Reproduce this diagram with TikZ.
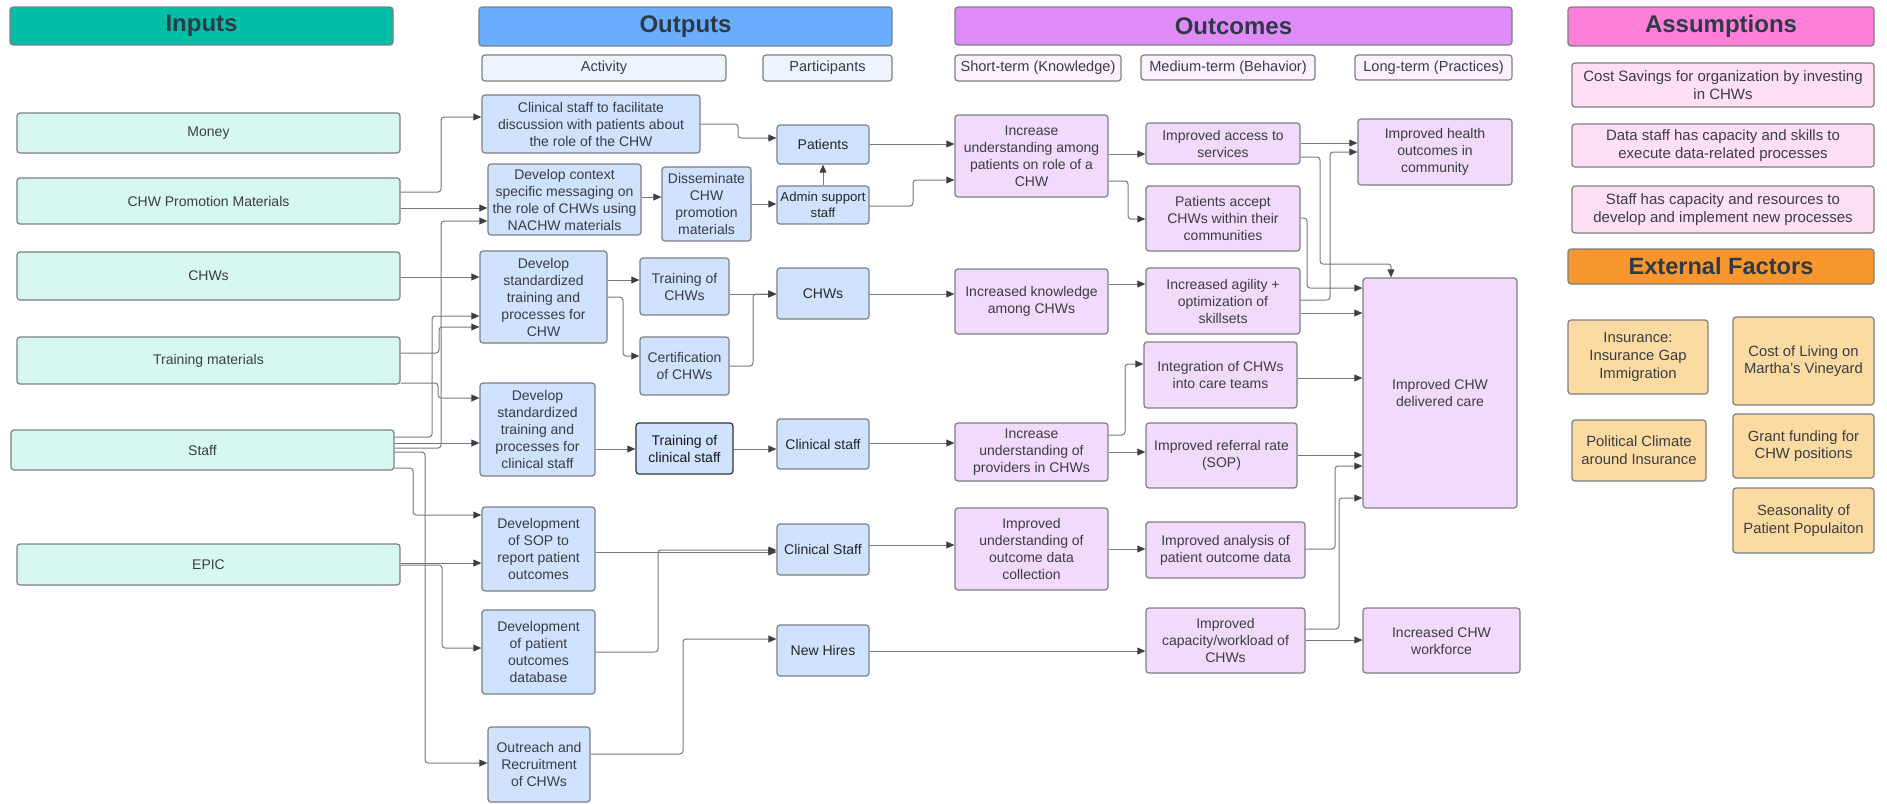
\documentclass[tikz,border=0pt]{standalone}
\usepackage{fontspec}
\setmainfont{Liberation Sans}
\usetikzlibrary{arrows.meta}
\definecolor{inHdr}{HTML}{00BFA6}
\definecolor{inFill}{HTML}{D6F8F1}
\definecolor{outHdr}{HTML}{6AAEFF}
\definecolor{outSub}{HTML}{EDF4FF}
\definecolor{outFill}{HTML}{CFE2FF}
\definecolor{ocHdr}{HTML}{DF8BFA}
\definecolor{ocSub}{HTML}{FBF1FF}
\definecolor{ocFill}{HTML}{F2DAFC}
\definecolor{asHdr}{HTML}{FF7FD8}
\definecolor{asFill}{HTML}{FFDFF4}
\definecolor{exHdr}{HTML}{F8962E}
\definecolor{exFill}{HTML}{FCDBA2}
\definecolor{bordergray}{HTML}{7C7F85}
\definecolor{textgray}{HTML}{3A3D42}
\definecolor{hdrText}{HTML}{2E3A46}
\definecolor{lineGray}{HTML}{767A80}
\definecolor{tipGray}{HTML}{3B3F45}
\newcommand\mybox[7]{%
  \pgfmathsetmacro\mbw{(#4-#2)*0.5}%
  \pgfmathsetmacro\mbh{(#5-#3)*0.5}%
  \node[#6, minimum width=\mbw pt, minimum height=\mbh pt] (#1) at ({(#2+#4)/2},{(#3+#5)/2}) {#7};%
}
\tikzset{
  box/.style={draw=bordergray, line width=0.6pt, rounded corners=1.5pt, align=center, inner sep=1pt,
    font=\fontsize{7}{8.5}\selectfont, text=textgray},
  hdr/.style={box, font=\fontsize{12}{14}\selectfont\bfseries, text=hdrText},
  subhdr/.style={box, font=\fontsize{7.3}{8.5}\selectfont},
  inbox/.style={box, fill=inFill},
  actbox/.style={box, fill=outFill},
  partbox/.style={box, fill=outFill, text=black!85},
  ocbox/.style={box, fill=ocFill},
  asbox/.style={box, fill=asFill, font=\fontsize{7.5}{9}\selectfont},
  exbox/.style={box, fill=exFill, font=\fontsize{7.4}{8.8}\selectfont},
  conn/.style={draw=lineGray, line width=0.5pt, rounded corners=1.5pt,
    -{Triangle[length=4pt,width=3.4pt,color=tipGray]}},
}
\begin{document}
\begin{tikzpicture}[x=0.5pt,y=-0.5pt]
\useasboundingbox (0,0) rectangle (1887,804);
% headers
\mybox{hIn}{10}{7}{393}{45}{hdr, fill=inHdr}{Inputs}
\mybox{hOut}{479}{7}{892}{46}{hdr, fill=outHdr}{Outputs}
\mybox{hOc}{955}{7}{1512}{45}{hdr, fill=ocHdr}{Outcomes}
\mybox{hAs}{1568}{7}{1874}{46}{hdr, fill=asHdr}{Assumptions}
\mybox{hEx}{1568}{249}{1874}{284}{hdr, fill=exHdr, font=\fontsize{11.8}{13}\selectfont\bfseries}{External Factors}
% sub headers
\mybox{sAct}{482}{55}{726}{81}{subhdr, fill=outSub}{Activity}
\mybox{sPart}{763}{55}{892}{81}{subhdr, fill=outSub}{Participants}
\mybox{sST}{955}{55}{1121}{81}{subhdr, fill=ocSub}{Short-term (Knowledge)}
\mybox{sMT}{1141}{55}{1315}{80}{subhdr, fill=ocSub}{Medium-term (Behavior)}
\mybox{sLT}{1355}{55}{1512}{80}{subhdr, fill=ocSub}{Long-term (Practices)}
% inputs
\mybox{iMoney}{17}{113}{400}{153}{inbox}{Money}
\mybox{iPromo}{17}{178}{400}{224}{inbox}{CHW Promotion Materials}
\mybox{iCHW}{17}{252}{400}{300}{inbox}{CHWs}
\mybox{iTrain}{17}{337}{400}{384}{inbox}{Training materials}
\mybox{iStaff}{11}{430}{394}{470}{inbox}{Staff}
\mybox{iEpic}{17}{544}{400}{585}{inbox}{EPIC}
% activities
\mybox{aFac}{482}{95}{700}{153}{actbox}{Clinical staff to facilitate\\discussion with patients about\\the role of the CHW}
\mybox{aCtx}{488}{164}{641}{235}{actbox}{Develop context\\specific messaging on\\the role of CHWs using\\NACHW materials}
\mybox{aDis}{662}{167}{751}{241}{actbox}{Disseminate\\CHW\\promotion\\materials}
\mybox{aStdC}{480}{251}{607}{343}{actbox}{Develop\\standardized\\training and\\processes for\\CHW}
\mybox{aTrC}{640}{258}{729}{315}{actbox}{Training of\\CHWs}
\mybox{aCert}{640}{337}{729}{395}{actbox}{Certification\\of CHWs}
\mybox{aStdS}{480}{383}{595}{476}{actbox}{Develop\\standardized\\training and\\processes for\\clinical staff}
\mybox{aTrS}{636}{423}{733}{474}{actbox, draw=black!80, text=black!90}{Training of\\clinical staff}
\mybox{aSOP}{482}{507}{595}{591}{actbox}{Development\\of SOP to\\report patient\\outcomes}
\mybox{aDB}{482}{610}{595}{694}{actbox}{Development\\of patient\\outcomes\\database}
\mybox{aOut}{488}{727}{590}{802}{actbox}{Outreach and\\Recruitment\\of CHWs}
% participants
\mybox{pPat}{777}{125}{869}{164}{partbox}{Patients}
\mybox{pAdm}{777}{186}{869}{224}{partbox, font=\fontsize{6.6}{8}\selectfont}{Admin support\\staff}
\mybox{pCHW}{777}{268}{869}{319}{partbox}{CHWs}
\mybox{pCS1}{777}{419}{869}{469}{partbox}{Clinical staff}
\mybox{pCS2}{777}{524}{869}{575}{partbox}{Clinical Staff}
\mybox{pNH}{777}{625}{869}{676}{partbox}{New Hires}
% short-term outcomes
\mybox{oUP}{955}{115}{1108}{197}{ocbox}{Increase\\understanding among\\patients on role of a\\CHW}
\mybox{oKC}{955}{269}{1108}{334}{ocbox}{Increased knowledge\\among CHWs}
\mybox{oUPr}{955}{423}{1108}{481}{ocbox}{Increase\\understanding of\\providers in CHWs}
\mybox{oUD}{955}{508}{1108}{590}{ocbox}{Improved\\understanding of\\outcome data\\collection}
% medium-term outcomes
\mybox{mAcc}{1146}{123}{1300}{164}{ocbox}{Improved access to\\services}
\mybox{mAcpt}{1146}{186}{1300}{251}{ocbox}{Patients accept\\CHWs within their\\communities}
\mybox{mAg}{1146}{268}{1300}{334}{ocbox}{Increased agility +\\optimization of\\skillsets}
\mybox{mInt}{1144}{342}{1297}{408}{ocbox}{Integration of CHWs\\into care teams}
\mybox{mRef}{1146}{423}{1297}{488}{ocbox}{Improved referral rate\\(SOP)}
\mybox{mAn}{1146}{522}{1305}{578}{ocbox}{Improved analysis of\\patient outcome data}
\mybox{mCap}{1146}{608}{1305}{673}{ocbox}{Improved\\capacity/workload of\\CHWs}
% long-term outcomes
\mybox{lHO}{1358}{119}{1512}{185}{ocbox}{Improved health\\outcomes in\\community}
\mybox{lCare}{1363}{278}{1517}{508}{ocbox}{Improved CHW\\delivered care}
\mybox{lWF}{1363}{608}{1520}{673}{ocbox}{Increased CHW\\workforce}
% assumptions
\mybox{asA}{1572}{63}{1874}{107}{asbox}{Cost Savings for organization by investing\\in CHWs}
\mybox{asB}{1572}{124}{1874}{167}{asbox}{Data staff has capacity and skills to\\execute data-related processes}
\mybox{asC}{1572}{186}{1874}{233}{asbox}{Staff has capacity and resources to\\develop and implement new processes}
% external factors
\mybox{exIns}{1568}{320}{1708}{394}{exbox}{Insurance:\\Insurance Gap\\Immigration}
\mybox{exCoL}{1733}{317}{1874}{405}{exbox}{Cost of Living on\\Martha's Vineyard}
\mybox{exPol}{1572}{420}{1706}{481}{exbox}{Political Climate\\around Insurance}
\mybox{exGr}{1733}{414}{1874}{478}{exbox}{Grant funding for\\CHW positions}
\mybox{exSea}{1733}{488}{1874}{553}{exbox}{Seasonality of\\Patient Populaiton}
% ---- connectors: inputs -> activities
\draw[conn] (iPromo.east |- 0,192) -| (441,117) -- (aFac.west |- 0,117);
\draw[conn] (iPromo.east |- 0,208) -- (aCtx.west |- 0,208);
\draw[conn] (iStaff.east |- 0,448) -| (441,221) -- (aCtx.west |- 0,221);
\draw[conn] (iCHW.east |- 0,277) -- (aStdC.west |- 0,277);
\draw[conn] (iStaff.east |- 0,437) -| (432,316) -- (aStdC.west |- 0,316);
\draw[conn] (iTrain.east |- 0,353) -| (439,327) -- (aStdC.west |- 0,327);
\draw[conn] (iTrain.east |- 0,383) -| (438,398) -- (aStdS.west |- 0,398);
\draw[conn] (iStaff.east |- 0,443) -- (aStdS.west |- 0,443);
\draw[conn] (iStaff.east |- 0,452) -| (425,763) -- (aOut.west |- 0,763);
\draw[conn] (iStaff.east |- 0,468) -| (413,515) -- (aSOP.west |- 0,515);
\draw[conn] (iEpic.east |- 0,563) -- (aSOP.west |- 0,563);
\draw[conn] (iEpic.east |- 0,565) -| (442,648) -- (aDB.west |- 0,648);
% ---- activities -> participants
\draw[conn] (aFac.east |- 0,124) -| (738,138) -- (pPat.west |- 0,138);
\draw[conn] (aCtx.east |- 0,197) -- (aDis.west |- 0,197);
\draw[conn] (aDis.east |- 0,204) -- (pAdm.west |- 0,204);
\draw[conn] (pAdm.north) -- (pPat.south);
\draw[conn] (aStdC.east |- 0,280) -- (aTrC.west |- 0,280);
\draw[conn] (aStdC.east |- 0,297) -| (623,356) -- (aCert.west |- 0,356);
\draw[conn] (aTrC.east |- 0,294) -- (pCHW.west |- 0,294);
\draw[conn] (aCert.east |- 0,366) -| (753,294) -- (pCHW.west |- 0,294);
\draw[conn] (aStdS.east |- 0,449) -- (aTrS.west |- 0,449);
\draw[conn] (aTrS.east |- 0,449) -- (pCS1.west |- 0,449);
\draw[conn] (aSOP.east |- 0,552) -- (pCS2.west |- 0,552);
\draw[conn] (aDB.east |- 0,652) -| (658,550) -- (pCS2.west |- 0,550);
\draw[conn] (aOut.east |- 0,754) -| (683,639) -- (pNH.west |- 0,639);
% ---- participants -> outcomes
\draw[conn] (pPat.east |- 0,144) -- (oUP.west |- 0,144);
\draw[conn] (pAdm.east |- 0,206) -| (913,180) -- (oUP.west |- 0,180);
\draw[conn] (pCHW.east |- 0,294) -- (oKC.west |- 0,294);
\draw[conn] (pCS1.east |- 0,443) -- (oUPr.west |- 0,443);
\draw[conn] (pCS2.east |- 0,545) -- (oUD.west |- 0,545);
\draw[conn] (pNH.east |- 0,651) -- (mCap.west |- 0,651);
% ---- short -> medium
\draw[conn] (oUP.east |- 0,154) -- (mAcc.west |- 0,154);
\draw[conn] (oUP.east |- 0,181) -| (1128,219) -- (mAcpt.west |- 0,219);
\draw[conn] (oKC.east |- 0,284) -- (mAg.west |- 0,284);
\draw[conn] (oUPr.east |- 0,435) -| (1125,364) -- (mInt.west |- 0,364);
\draw[conn] (oUPr.east |- 0,452) -- (mRef.west |- 0,452);
\draw[conn] (oUD.east |- 0,549) -- (mAn.west |- 0,549);
% ---- medium -> long
\draw[conn] (mAcc.east |- 0,143) -- (lHO.west |- 0,143);
\draw[conn] (mAcc.east |- 0,157) -| (1320,264) -- (1391,264) -- (1391,0 |- lCare.north);
\draw[conn] (mAcpt.east |- 0,218) -| (1307,288) -- (lCare.west |- 0,288);
\draw[conn] (mAg.east |- 0,300) -| (1330,152) -- (lHO.west |- 0,152);
\draw[conn] (mAg.east |- 0,313) -- (lCare.west |- 0,313);
\draw[conn] (mInt.east |- 0,378) -- (lCare.west |- 0,378);
\draw[conn] (mRef.east |- 0,455) -- (lCare.west |- 0,455);
\draw[conn] (mAn.east |- 0,549) -| (1335,466) -- (lCare.west |- 0,466);
\draw[conn] (mCap.east |- 0,629) -| (1339,498) -- (lCare.west |- 0,498);
\draw[conn] (mCap.east |- 0,640) -- (lWF.west |- 0,640);
\end{tikzpicture}
\end{document}
